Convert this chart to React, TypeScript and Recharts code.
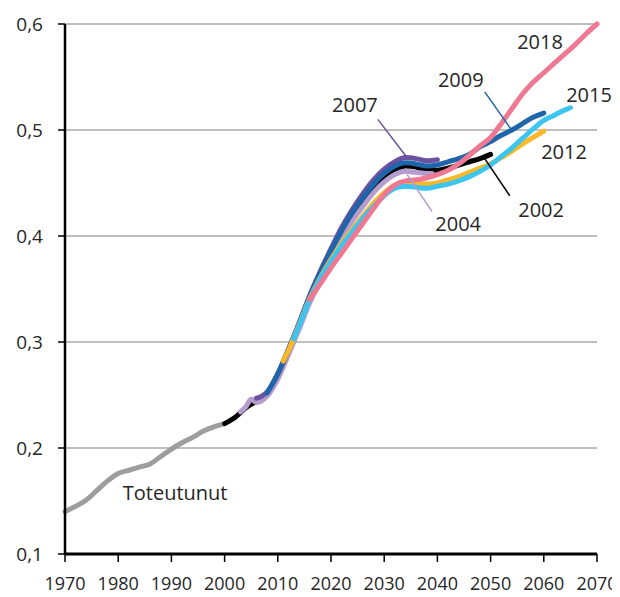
import React from "react";
import {
  LineChart,
  Line,
  XAxis,
  YAxis,
  CartesianGrid,
  ReferenceLine,
  ReferenceDot,
} from "recharts";

// x-axis
const yearTicks = [1970, 1980, 1990, 2000, 2010, 2020, 2030, 2040, 2050, 2060, 2070];
const valueTicks = [0.1, 0.2, 0.3, 0.4, 0.5, 0.6];

// Toteutunut (actual)
const histYears = [1970, 1972, 1974, 1976, 1978, 1980, 1982, 1984, 1986, 1988, 1990, 1992, 1994, 1996, 1998, 2000];
const histValues = [0.14, 0.145, 0.151, 0.16, 0.169, 0.176, 0.179, 0.182, 0.185, 0.192, 0.199, 0.205, 0.21, 0.216, 0.22, 0.223];

// projections
const years2002 = [2000, 2002, 2004, 2006, 2008, 2010, 2012, 2014, 2016, 2018, 2020, 2022, 2024, 2026, 2028, 2030, 2032, 2034, 2036, 2038, 2040, 2042, 2044, 2046, 2048, 2050];
const values2002 = [0.223, 0.229, 0.238, 0.244, 0.25, 0.268, 0.29, 0.314, 0.34, 0.362, 0.382, 0.401, 0.418, 0.432, 0.445, 0.455, 0.462, 0.466, 0.465, 0.462, 0.462, 0.464, 0.467, 0.47, 0.473, 0.477];

const years2004 = [2003, 2004, 2005, 2006, 2008, 2010, 2012, 2014, 2016, 2018, 2020, 2022, 2024, 2026, 2028, 2030, 2032, 2034, 2036, 2038, 2039];
const values2004 = [0.234, 0.239, 0.246, 0.243, 0.249, 0.265, 0.288, 0.312, 0.337, 0.358, 0.379, 0.398, 0.414, 0.428, 0.441, 0.451, 0.458, 0.461, 0.46, 0.459, 0.459];

const years2007 = [2006, 2007, 2008, 2010, 2012, 2014, 2016, 2018, 2020, 2022, 2024, 2026, 2028, 2030, 2032, 2034, 2036, 2038, 2040];
const values2007 = [0.247, 0.249, 0.253, 0.27, 0.293, 0.318, 0.344, 0.367, 0.388, 0.408, 0.425, 0.44, 0.453, 0.463, 0.47, 0.474, 0.473, 0.471, 0.472];

const years2009 = [2008, 2010, 2012, 2014, 2016, 2018, 2020, 2022, 2024, 2026, 2028, 2030, 2032, 2034, 2036, 2038, 2040, 2042, 2044, 2046, 2048, 2050, 2052, 2054, 2056, 2058, 2060];
const values2009 = [0.252, 0.27, 0.293, 0.317, 0.343, 0.365, 0.386, 0.405, 0.422, 0.436, 0.449, 0.459, 0.466, 0.469, 0.468, 0.466, 0.467, 0.47, 0.473, 0.477, 0.484, 0.489, 0.495, 0.5, 0.506, 0.512, 0.516];

const years2012 = [2011, 2012, 2014, 2016, 2018, 2020, 2022, 2024, 2026, 2028, 2030, 2032, 2034, 2036, 2038, 2040, 2042, 2044, 2046, 2048, 2050, 2052, 2054, 2056, 2058, 2060];
const values2012 = [0.282, 0.292, 0.316, 0.341, 0.361, 0.378, 0.393, 0.406, 0.419, 0.431, 0.441, 0.448, 0.451, 0.45, 0.449, 0.45, 0.453, 0.456, 0.46, 0.464, 0.468, 0.474, 0.48, 0.487, 0.493, 0.499];

const years2015 = [2013, 2014, 2016, 2018, 2020, 2022, 2024, 2026, 2028, 2030, 2032, 2034, 2036, 2038, 2040, 2042, 2044, 2046, 2048, 2050, 2052, 2054, 2056, 2058, 2060, 2062, 2064, 2065];
const values2015 = [0.303, 0.315, 0.34, 0.36, 0.376, 0.391, 0.404, 0.417, 0.428, 0.438, 0.445, 0.447, 0.446, 0.445, 0.447, 0.449, 0.452, 0.456, 0.461, 0.467, 0.475, 0.483, 0.492, 0.501, 0.509, 0.514, 0.519, 0.521];

const years2018 = [2016, 2018, 2020, 2022, 2024, 2026, 2028, 2030, 2032, 2034, 2036, 2038, 2040, 2042, 2044, 2046, 2048, 2050, 2052, 2054, 2056, 2058, 2060, 2062, 2064, 2066, 2068, 2070];
const values2018 = [0.34, 0.355, 0.37, 0.384, 0.398, 0.412, 0.426, 0.439, 0.448, 0.452, 0.453, 0.455, 0.458, 0.462, 0.468, 0.476, 0.485, 0.493, 0.506, 0.52, 0.534, 0.545, 0.554, 0.563, 0.572, 0.581, 0.591, 0.6];

const toPoints = (years: number[], values: number[]) =>
  years.map((year, i) => ({ year, value: values[i] }));

const series = [
  { name: "Toteutunut", data: toPoints(histYears, histValues), color: "#9d9d9d" },
  { name: "2002", data: toPoints(years2002, values2002), color: "#000000" },
  { name: "2004", data: toPoints(years2004, values2004), color: "#b59ccc" },
  { name: "2007", data: toPoints(years2007, values2007), color: "#6a52a0" },
  { name: "2009", data: toPoints(years2009, values2009), color: "#1f65aa" },
  { name: "2012", data: toPoints(years2012, values2012), color: "#fbb828" },
  { name: "2015", data: toPoints(years2015, values2015), color: "#3cc5f1" },
  { name: "2018", data: toPoints(years2018, values2018), color: "#ef7893" },
];

// text labels and their leader lines
const labels = [
  { text: "2018", x: 2059.3, y: 0.583 },
  { text: "2009", x: 2044.4, y: 0.547 },
  { text: "2015", x: 2068.5, y: 0.533 },
  { text: "2012", x: 2063.8, y: 0.479 },
  { text: "2002", x: 2059.5, y: 0.425 },
  { text: "2004", x: 2043.9, y: 0.411 },
  { text: "2007", x: 2024.5, y: 0.524 },
  { text: "Toteutunut", x: 1990.7, y: 0.158 },
];

const leaders = [
  { color: "#6a52a0", from: [2028.8, 0.51], to: [2034.0, 0.476] },
  { color: "#1f65aa", from: [2048.9, 0.536], to: [2053.8, 0.501] },
  { color: "#b59ccc", from: [2034.3, 0.458], to: [2039.0, 0.423] },
  { color: "#000000", from: [2048.9, 0.473], to: [2053.6, 0.438] },
];

const textColor = "#262626";
const fontFamily = "'Open Sans', 'Noto Sans', sans-serif";

export default function App() {
  return (
    <div style={{ fontFamily }}>
      <style>{`body { overflow: hidden; }`}</style>
      <LineChart width={612} height={589} margin={{ top: 16, right: 23, left: 0, bottom: 0 }}>
        <CartesianGrid vertical={false} stroke="#7f7f7f" strokeWidth={1} />
        <XAxis
          type="number"
          dataKey="year"
          domain={[1970, 2070]}
          ticks={yearTicks}
          height={43}
          axisLine={{ stroke: "#000", strokeWidth: 3 }}
          tickLine={{ stroke: "#000", strokeWidth: 1.5 }}
          tickSize={8}
          tickMargin={15}
          tick={{ fill: textColor, fontSize: 18, fontFamily }}
          interval={0}
        />
        <YAxis
          type="number"
          domain={[0.1, 0.6]}
          ticks={valueTicks}
          width={57}
          axisLine={{ stroke: "#000", strokeWidth: 2.5 }}
          tickLine={{ stroke: "#000", strokeWidth: 1.5 }}
          tickSize={7}
          tickMargin={15}
          tick={{ fill: textColor, fontSize: 19, fontFamily }}
          tickFormatter={(v: number) => v.toFixed(1).replace(".", ",")}
          interval={0}
        />
        {series.map((s) => (
          <Line
            key={s.name}
            data={s.data}
            dataKey="value"
            name={s.name}
            type="monotone"
            stroke={s.color}
            strokeWidth={5}
            strokeLinecap="round"
            strokeLinejoin="round"
            dot={false}
            activeDot={false}
            isAnimationActive={false}
          />
        ))}
        {leaders.map((l, i) => (
          <ReferenceLine
            key={i}
            segment={[
              { x: l.from[0], y: l.from[1] },
              { x: l.to[0], y: l.to[1] },
            ]}
            stroke={l.color}
            strokeWidth={1.5}
          />
        ))}
        {labels.map((l) => (
          <ReferenceDot
            key={l.text}
            x={l.x}
            y={l.y}
            r={1}
            fill="none"
            stroke="none"
            label={{ value: l.text, position: "center", fill: textColor, fontSize: 20, fontFamily }}
          />
        ))}
      </LineChart>
    </div>
  );
}
